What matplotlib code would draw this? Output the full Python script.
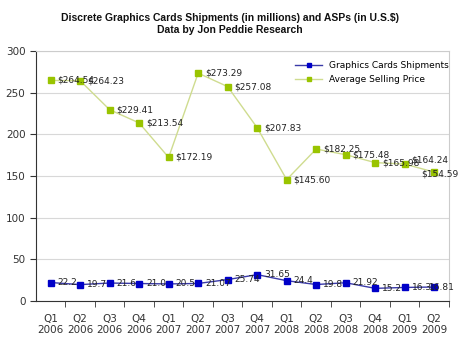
import matplotlib
matplotlib.use('Agg')
import matplotlib.pyplot as plt
import numpy as np

# data
quarters = ['Q1\n2006', 'Q2\n2006', 'Q3\n2006', 'Q4\n2006', 'Q1\n2007', 'Q2\n2007', 'Q3\n2007',
            'Q4\n2007', 'Q1\n2008', 'Q2\n2008', 'Q3\n2008', 'Q4\n2008', 'Q1\n2009', 'Q2\n2009']
shipments = [22.2, 19.7, 21.6, 21.0, 20.5, 21.07, 25.74, 31.65, 24.4, 19.8, 21.92, 15.2, 16.3, 16.81]
asp = [264.54, 264.23, 229.41, 213.54, 172.19, 273.29, 257.08, 207.83, 145.60, 182.25,
       175.48, 165.98, 164.24, 154.59]
ship_labels = ['22.2', '19.7', '21.6', '21.0', '20.5', '21.07', '25.74', '31.65', '24.4', '19.8',
               '21.92', '15.2', '16.3', '16.81']

plt.rcParams['font.family'] = ['DejaVu Sans']

fig = plt.figure(figsize=(4.6, 3.39), dpi=100)
ax = fig.add_axes([0.078, 0.112, 0.898, 0.738])

x = np.arange(len(quarters))
blue = '#0000c8'
green = '#99c400'

ax.plot(x, shipments, '-s', color='#3a3aa8', lw=1, ms=4.5, mfc=blue, mec=blue,
        label='Graphics Cards Shipments')
ax.plot(x, asp, '-s', color='#cfdc8f', lw=1, ms=4.5, mfc=green, mec=green,
        label='Average Selling Price')

for i in range(len(x)):
    if i == len(x) - 1:
        ax.annotate(ship_labels[i], (x[i], shipments[i]), xytext=(-4, 0), textcoords='offset points',
                    ha='left', va='center', fontsize=6.5, color='#222222')
        ax.annotate('$%.2f' % asp[i], (x[i], asp[i]), xytext=(-9, -1), textcoords='offset points',
                    ha='left', va='center', fontsize=6.5, color='#222222')
    else:
        ax.annotate(ship_labels[i], (x[i], shipments[i]), xytext=(5, 0), textcoords='offset points',
                    ha='left', va='center', fontsize=6.5, color='#222222')
        dy = 3 if i == len(x) - 2 else 0
        ax.annotate('$%.2f' % asp[i], (x[i], asp[i]), xytext=(5, dy), textcoords='offset points',
                    ha='left', va='center', fontsize=6.5, color='#222222')

ax.set_xlim(-0.5, len(x) - 0.5)
ax.set_ylim(0, 300)
ax.set_yticks(np.arange(0, 301, 50))
ax.set_xticks(x)
ax.set_xticklabels(quarters, fontsize=7.5, color='#333333')
ax.tick_params(axis='x', length=0, pad=9)
ax.set_xticks(np.arange(0.5, len(x) - 0.5 + 1, 1), minor=True)
ax.tick_params(axis='x', which='minor', length=4, direction='out', color='#333333')
ax.tick_params(axis='y', length=4, direction='out', labelsize=7.5, labelcolor='#333333', color='#333333')

ax.grid(axis='y', color='#d8d8d8', lw=0.8)
ax.set_axisbelow(True)
ax.spines['top'].set_color('#cccccc')
ax.spines['right'].set_color('#cccccc')
ax.spines['left'].set_color('#333333')
ax.spines['bottom'].set_color('#333333')

ax.legend(loc='upper right', frameon=False, fontsize=6.5, handlelength=3, markerscale=0.6,
          bbox_to_anchor=(1.02, 0.99), labelspacing=0.5)

fig.text(0.5, 0.93, 'Discrete Graphics Cards Shipments (in millions) and ASPs (in U.S.$)\nData by Jon Peddie Research',
         ha='center', va='center', fontsize=7.5, fontweight='bold', color='#111111', linespacing=1.25,
         family=['Liberation Sans', 'DejaVu Sans'])

fig.savefig('out.png', dpi=100)
